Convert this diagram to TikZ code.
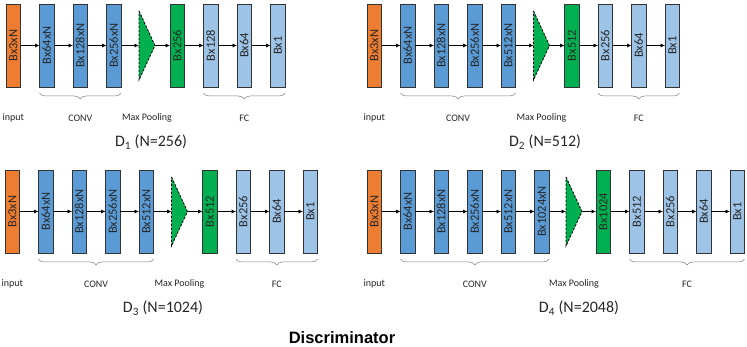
\documentclass[tikz,border=0pt]{standalone}
\usepackage{fontspec}
\setmainfont{Carlito}
\newfontfamily\titlefont{Liberation Sans}
\usepackage{graphicx}
\usetikzlibrary{arrows.meta, positioning, calc, decorations.pathreplacing}
\definecolor{inpcol}{HTML}{ED7D31}
\definecolor{convcol}{HTML}{5B9BD5}
\definecolor{densecol}{HTML}{00B050}
\definecolor{fccol}{HTML}{9DC3E6}

\begin{document}
\begin{tikzpicture}[
  x=1pt, y=-1pt,
  node distance=19pt,
  box/.style={draw=black!80, line width=0.6pt, minimum width=14.5pt,
              minimum height=83pt, inner sep=0pt, outer sep=0pt,
              font=\fontsize{12.5}{13}\selectfont, text=black!85},
  inp/.style={box, fill=inpcol},
  conv/.style={box, fill=convcol},
  dense/.style={box, fill=densecol},
  fc/.style={box, fill=fccol},
  pool/.style={minimum width=16pt, minimum height=69pt, inner sep=0pt,
               outer sep=0pt},
  tri/.style={draw=black, fill=densecol, line width=0.8pt,
              dash pattern=on 2.5pt off 1.5pt},
  ar/.style={-{Latex[length=4.5pt,width=4pt]}, line width=0.7pt},
  grp/.style={decorate, decoration={brace, mirror, amplitude=6pt},
              draw=black!50, line width=0.5pt},
  lbl/.style={font=\fontsize{10}{12}\selectfont, text=black!85},
  dlbl/.style={font=\fontsize{16}{18}\selectfont, text=black!85}
]
\useasboundingbox (0,0) rectangle (747,347);

% D1, top left
\node[inp, anchor=north west] (in1) at (6,4) {\rotatebox{90}{Bx3xN}};
\node[conv, right=of in1] (c1a) {\rotatebox{90}{Bx64xN}};
\node[conv, right=of c1a] (c1b) {\rotatebox{90}{Bx128xN}};
\node[conv, right=of c1b] (c1c) {\rotatebox{90}{Bx256xN}};
\node[pool, right=18pt of c1c] (mp1) {};
\node[dense, right=15pt of mp1] (g1) {\rotatebox{90}{Bx256}};
\node[fc, right=of g1] (f1a) {\rotatebox{90}{Bx128}};
\node[fc, right=of f1a] (f1b) {\rotatebox{90}{Bx64}};
\node[fc, right=of f1b] (f1c) {\rotatebox{90}{Bx1}};
\draw[tri] (mp1.north west) -- (mp1.east) -- (mp1.south west) -- cycle;
\draw[ar] (in1) -- (c1a);
\draw[ar] (c1a) -- (c1b);
\draw[ar] (c1b) -- (c1c);
\draw[ar] (c1c) -- (mp1);
\draw[ar] (mp1) -- (g1);
\draw[ar] (g1) -- (f1a);
\draw[ar] (f1a) -- (f1b);
\draw[ar] (f1b) -- (f1c);
\draw[grp] ($(c1a.south west)+(0,6)$) -- ($(c1c.south east)+(0,6)$);
\draw[grp] ($(f1a.south west)+(0,6)$) -- ($(f1c.south east)+(0,6)$);
\coordinate (cv1) at ($(c1a.south west)!0.5!(c1c.south east)$);
\coordinate (fv1) at ($(f1a.south west)!0.5!(f1c.south east)$);
\node[lbl] (l1) at ($(in1.south)+(0,31)$) {input};
\node[lbl] at (cv1 |- l1) {CONV};
\node[lbl] at (mp1 |- l1) {Max Pooling};
\node[lbl] at (fv1 |- l1) {FC};
\node[dlbl] (d1) at (151,142) {D\textsubscript{1} (N=256)};

% D2, top right
\node[inp, anchor=north west] (in2) at (367,4) {\rotatebox{90}{Bx3xN}};
\node[conv, right=of in2] (c2a) {\rotatebox{90}{Bx64xN}};
\node[conv, right=of c2a] (c2b) {\rotatebox{90}{Bx128xN}};
\node[conv, right=of c2b] (c2c) {\rotatebox{90}{Bx256xN}};
\node[conv, right=of c2c] (c2d) {\rotatebox{90}{Bx512xN}};
\node[pool, right=18pt of c2d] (mp2) {};
\node[dense, right=15pt of mp2] (g2) {\rotatebox{90}{Bx512}};
\node[fc, right=of g2] (f2a) {\rotatebox{90}{Bx256}};
\node[fc, right=of f2a] (f2b) {\rotatebox{90}{Bx64}};
\node[fc, right=of f2b] (f2c) {\rotatebox{90}{Bx1}};
\draw[tri] (mp2.north west) -- (mp2.east) -- (mp2.south west) -- cycle;
\draw[ar] (in2) -- (c2a);
\draw[ar] (c2a) -- (c2b);
\draw[ar] (c2b) -- (c2c);
\draw[ar] (c2c) -- (c2d);
\draw[ar] (c2d) -- (mp2);
\draw[ar] (mp2) -- (g2);
\draw[ar] (g2) -- (f2a);
\draw[ar] (f2a) -- (f2b);
\draw[ar] (f2b) -- (f2c);
\draw[grp] ($(c2a.south west)+(0,6)$) -- ($(c2d.south east)+(0,6)$);
\draw[grp] ($(f2a.south west)+(0,6)$) -- ($(f2c.south east)+(0,6)$);
\coordinate (cv2) at ($(c2a.south west)!0.5!(c2d.south east)$);
\coordinate (fv2) at ($(f2a.south west)!0.5!(f2c.south east)$);
\node[lbl] (l2) at ($(in2.south)+(0,31)$) {input};
\node[lbl] at (cv2 |- l2) {CONV};
\node[lbl] at (mp2 |- l2) {Max Pooling};
\node[lbl] at (fv2 |- l2) {FC};
\node[dlbl] (d2) at (545,142) {D\textsubscript{2} (N=512)};

% D3, bottom left
\node[inp, anchor=north west] (in3) at (5,170) {\rotatebox{90}{Bx3xN}};
\node[conv, right=of in3] (c3a) {\rotatebox{90}{Bx64xN}};
\node[conv, right=of c3a] (c3b) {\rotatebox{90}{Bx128xN}};
\node[conv, right=of c3b] (c3c) {\rotatebox{90}{Bx256xN}};
\node[conv, right=of c3c] (c3d) {\rotatebox{90}{Bx512xN}};
\node[pool, right=18pt of c3d] (mp3) {};
\node[dense, right=15pt of mp3] (g3) {\rotatebox{90}{Bx512}};
\node[fc, right=of g3] (f3a) {\rotatebox{90}{Bx256}};
\node[fc, right=of f3a] (f3b) {\rotatebox{90}{Bx64}};
\node[fc, right=of f3b] (f3c) {\rotatebox{90}{Bx1}};
\draw[tri] (mp3.north west) -- (mp3.east) -- (mp3.south west) -- cycle;
\draw[ar] (in3) -- (c3a);
\draw[ar] (c3a) -- (c3b);
\draw[ar] (c3b) -- (c3c);
\draw[ar] (c3c) -- (c3d);
\draw[ar] (c3d) -- (mp3);
\draw[ar] (mp3) -- (g3);
\draw[ar] (g3) -- (f3a);
\draw[ar] (f3a) -- (f3b);
\draw[ar] (f3b) -- (f3c);
\draw[grp] ($(c3a.south west)+(0,6)$) -- ($(c3d.south east)+(0,6)$);
\draw[grp] ($(f3a.south west)+(0,6)$) -- ($(f3c.south east)+(0,6)$);
\coordinate (cv3) at ($(c3a.south west)!0.5!(c3d.south east)$);
\coordinate (fv3) at ($(f3a.south west)!0.5!(f3c.south east)$);
\node[lbl] (l3) at ($(in3.south)+(0,31)$) {input};
\node[lbl] at (cv3 |- l3) {CONV};
\node[lbl] at (mp3 |- l3) {Max Pooling};
\node[lbl] at (fv3 |- l3) {FC};
\node[dlbl] (d3) at (163,308) {D\textsubscript{3} (N=1024)};

% D4, bottom right
\node[inp, anchor=north west] (in4) at (367,170) {\rotatebox{90}{Bx3xN}};
\node[conv, right=of in4] (c4a) {\rotatebox{90}{Bx64xN}};
\node[conv, right=of c4a] (c4b) {\rotatebox{90}{Bx128xN}};
\node[conv, right=of c4b] (c4c) {\rotatebox{90}{Bx256xN}};
\node[conv, right=of c4c] (c4d) {\rotatebox{90}{Bx512xN}};
\node[conv, right=of c4d] (c4e) {\rotatebox{90}{Bx1024xN}};
\node[pool, right=17pt of c4e] (mp4) {};
\node[dense, right=14pt of mp4] (g4) {\rotatebox{90}{Bx1024}};
\node[fc, right=of g4] (f4a) {\rotatebox{90}{Bx512}};
\node[fc, right=of f4a] (f4b) {\rotatebox{90}{Bx256}};
\node[fc, right=of f4b] (f4c) {\rotatebox{90}{Bx64}};
\node[fc, right=of f4c] (f4d) {\rotatebox{90}{Bx1}};
\draw[tri] (mp4.north west) -- (mp4.east) -- (mp4.south west) -- cycle;
\draw[ar] (in4) -- (c4a);
\draw[ar] (c4a) -- (c4b);
\draw[ar] (c4b) -- (c4c);
\draw[ar] (c4c) -- (c4d);
\draw[ar] (c4d) -- (c4e);
\draw[ar] (c4e) -- (mp4);
\draw[ar] (mp4) -- (g4);
\draw[ar] (g4) -- (f4a);
\draw[ar] (f4a) -- (f4b);
\draw[ar] (f4b) -- (f4c);
\draw[ar] (f4c) -- (f4d);
\draw[grp] ($(c4a.south west)+(0,6)$) -- ($(c4e.south east)+(0,6)$);
\draw[grp] ($(f4a.south west)+(0,6)$) -- ($(f4d.south east)+(0,6)$);
\coordinate (cv4) at ($(c4a.south west)!0.5!(c4e.south east)$);
\coordinate (fv4) at ($(f4a.south west)!0.5!(f4d.south east)$);
\node[lbl] (l4) at ($(in4.south)+(0,31)$) {input};
\node[lbl] at (cv4 |- l4) {CONV};
\node[lbl] at (mp4 |- l4) {Max Pooling};
\node[lbl] at (fv4 |- l4) {FC};
\node[dlbl] (d4) at (579,308) {D\textsubscript{4} (N=2048)};

\node[font=\titlefont\bfseries\fontsize{16.5}{18}\selectfont] (title) at (342,338) {Discriminator};
\end{tikzpicture}
\end{document}
